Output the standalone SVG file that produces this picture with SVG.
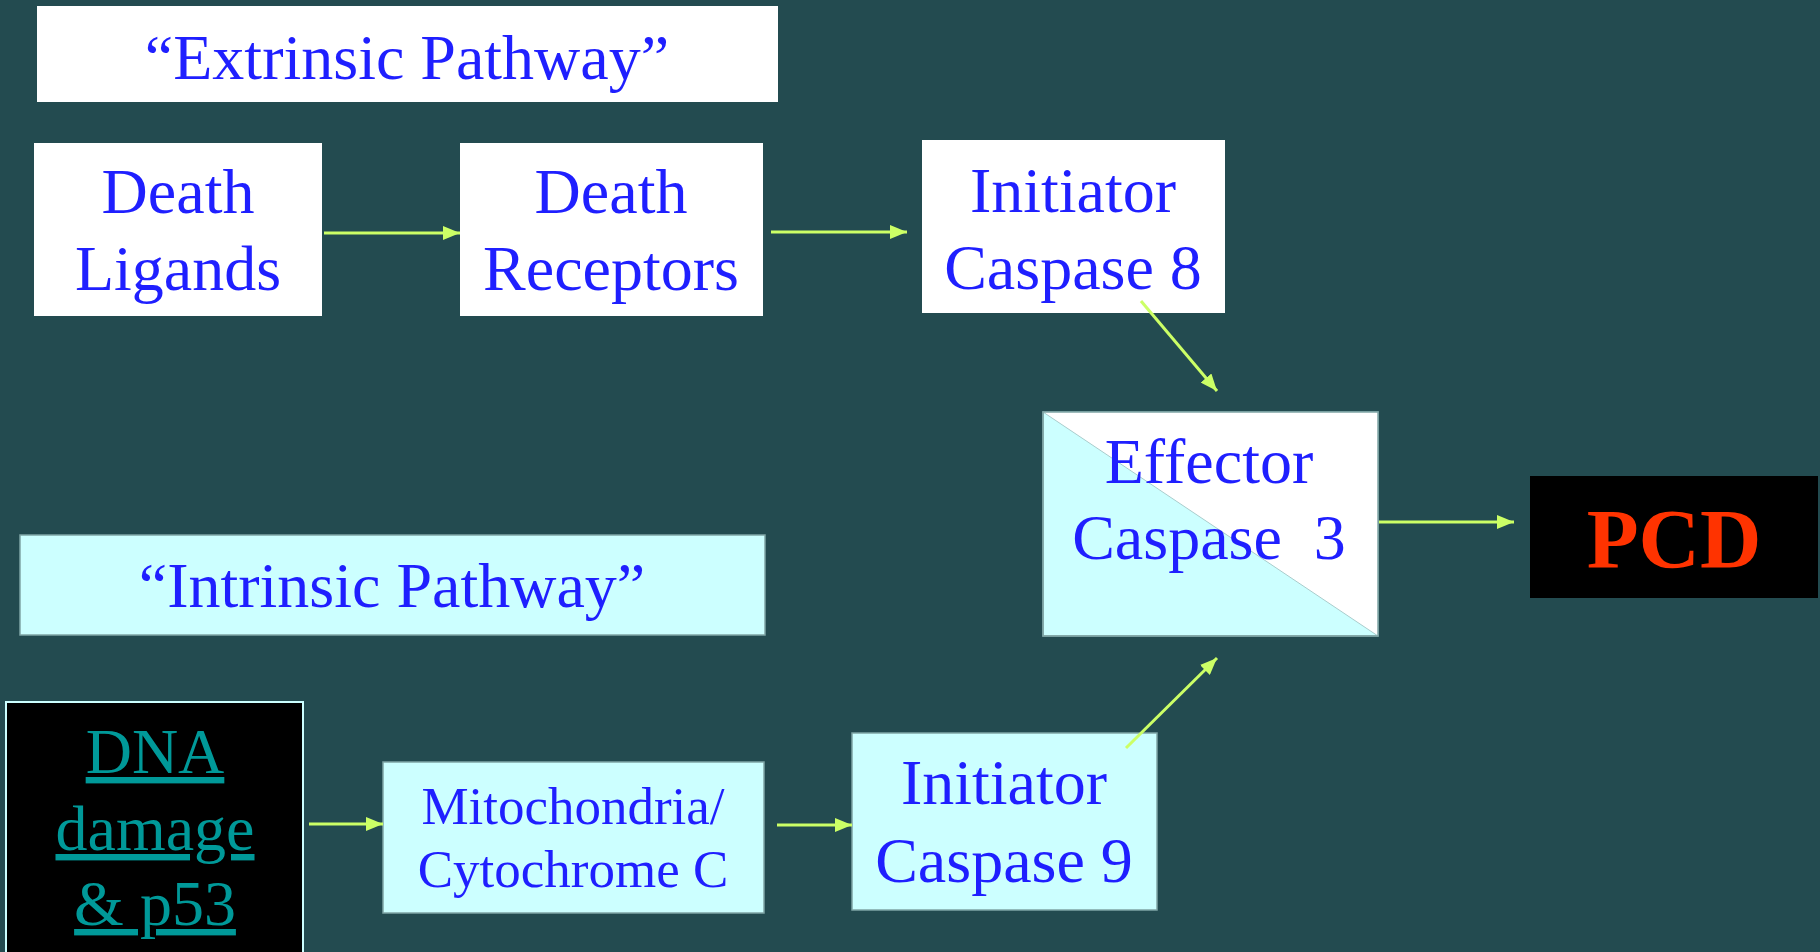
<svg xmlns="http://www.w3.org/2000/svg" width="1820" height="952" viewBox="0 0 1820 952">
<style>
.t{font-family:"Liberation Serif","Times New Roman",serif;font-size:64px;fill:#1f1fff;text-anchor:middle}
.w{fill:#ffffff}
.c{fill:#ccffff;stroke:#7fa5a5;stroke-width:1.5}
.a{stroke:#ccff66;stroke-width:3;fill:none;marker-end:url(#ah)}
</style>
<defs>
<marker id="ah" viewBox="0 0 17 14" refX="17" refY="7" markerWidth="17" markerHeight="14" orient="auto" markerUnits="userSpaceOnUse">
<path d="M0,0 L17,7 L0,14 Z" fill="#ccff66"/>
</marker>
</defs>
<rect width="1820" height="952" fill="#234b50"/>
<g id="extrinsic-label">
<rect class="w" x="37" y="6" width="741" height="96"/>
<text class="t" x="407" y="79">“Extrinsic Pathway”</text>
</g>
<g id="death-ligands">
<rect class="w" x="34" y="143" width="288" height="173"/>
<text class="t" x="178" y="213">Death</text>
<text class="t" x="178" y="290">Ligands</text>
</g>
<g id="death-receptors">
<rect class="w" x="460" y="143" width="303" height="173"/>
<text class="t" x="611" y="213">Death</text>
<text class="t" x="611" y="290">Receptors</text>
</g>
<g id="initiator-caspase-8">
<rect class="w" x="922" y="140" width="303" height="173"/>
<text class="t" x="1073" y="212">Initiator</text>
<text class="t" x="1073" y="289">Caspase 8</text>
</g>
<g id="effector-caspase-3">
<rect x="1043" y="412" width="335" height="224" fill="#ccffff" stroke="#7fa5a5" stroke-width="1.5"/>
<polygon points="1043,412 1378,412 1378,636" fill="#ffffff"/>
<line x1="1043" y1="412" x2="1378" y2="636" stroke="#aacccc" stroke-width="1"/>
<rect x="1043" y="412" width="335" height="224" fill="none" stroke="#7fa5a5" stroke-width="1.5"/>
<text class="t" x="1209" y="483">Effector</text>
<text class="t" x="1209" y="559" xml:space="preserve">Caspase  3</text>
</g>
<g id="pcd">
<rect x="1530" y="476" width="288" height="122" fill="#000000"/>
<text x="1674" y="568" font-family="Liberation Serif, Times New Roman, serif" font-size="85" font-weight="bold" fill="#ff3300" text-anchor="middle">PCD</text>
</g>
<g id="intrinsic-label">
<rect class="c" x="20" y="535" width="745" height="100"/>
<text class="t" x="392" y="607">“Intrinsic Pathway”</text>
</g>
<g id="dna-damage">
<rect x="6" y="702" width="297" height="260" fill="#000000" stroke="#ccffff" stroke-width="2"/>
<text class="t" x="155" y="773" style="fill:#009999;text-decoration:underline">DNA</text>
<text class="t" x="155" y="850" style="fill:#009999;text-decoration:underline">damage</text>
<text class="t" x="155" y="925" style="fill:#009999;text-decoration:underline">&amp; p53</text>
</g>
<g id="mitochondria">
<rect class="c" x="383" y="762" width="381" height="151"/>
<text class="t" x="573" y="824" style="font-size:53px">Mitochondria/</text>
<text class="t" x="573" y="887" style="font-size:53px">Cytochrome C</text>
</g>
<g id="initiator-caspase-9">
<rect class="c" x="852" y="733" width="305" height="177"/>
<text class="t" x="1004" y="804">Initiator</text>
<text class="t" x="1004" y="882">Caspase 9</text>
</g>
<g id="connectors">
<line class="a" x1="324" y1="233" x2="460" y2="233"/>
<line class="a" x1="771" y1="232" x2="907" y2="232"/>
<line class="a" x1="1141" y1="301" x2="1217" y2="391"/>
<line class="a" x1="1379" y1="522" x2="1514" y2="522"/>
<line class="a" x1="1126" y1="748" x2="1217" y2="658"/>
<line class="a" x1="309" y1="824" x2="383" y2="824"/>
<line class="a" x1="777" y1="825" x2="852" y2="825"/>
</g>
</svg>
